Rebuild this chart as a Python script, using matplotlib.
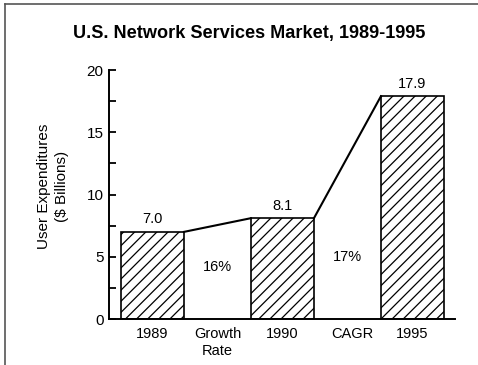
import matplotlib
matplotlib.use('Agg')
import matplotlib.pyplot as plt
from matplotlib.lines import Line2D

plt.rcParams['font.family'] = ['Liberation Sans', 'DejaVu Sans']
plt.rcParams['hatch.linewidth'] = 0.9

# Data
years = ['1989', '1990', '1995']
spend = [7.0, 8.1, 17.9]          # $ billions
rate_labels = ['16%', '17%']
rate_heights = [4.2, 5.0]         # where the growth figures sit
tick_labels = ['1989', 'Growth\nRate', '1990', 'CAGR', '1995']

bar_pos = [0, 2, 4]
rate_pos = [1, 3]
tick_pos = [0, 1, 2, 3.08, 4]
bar_w = 0.97

fig = plt.figure(figsize=(4.78, 3.65), dpi=100)
ax = fig.add_axes([0.228, 0.126, 0.724, 0.682])

ax.bar(bar_pos, spend, width=bar_w, color='white', edgecolor='black',
       linewidth=1.2, hatch='///')

# connectors from top-right of one bar to top-left of the next
for i in range(len(spend) - 1):
    ax.plot([bar_pos[i] + bar_w / 2, bar_pos[i + 1] - bar_w / 2],
            [spend[i], spend[i + 1]], color='black', lw=1.5)

for x, v in zip(bar_pos, spend):
    ax.text(x, v + 0.45, f'{v:.1f}', ha='center', va='bottom', fontsize=10.5)

for x, lab, h in zip(rate_pos, rate_labels, rate_heights):
    ax.text(x, h, lab, ha='center', va='center', fontsize=10.5)

ax.set_xlim(-0.667, 4.655)
ax.set_ylim(0, 20)
ax.set_yticks([0, 5, 10, 15, 20])
ax.set_yticks([2.5, 7.5, 12.5, 17.5], minor=True)
ax.tick_params(axis='y', which='both', direction='in', length=5, width=1.3,
               labelsize=11, pad=4)
ax.set_xticks(tick_pos)
ax.set_xticklabels(tick_labels, fontsize=10.5, linespacing=1.2)
ax.tick_params(axis='x', length=0, pad=6)

for s in ['top', 'right']:
    ax.spines[s].set_visible(False)
ax.spines['left'].set_linewidth(1.4)
ax.spines['bottom'].set_linewidth(1.4)
ax.spines['bottom'].set_bounds(-0.667, 4.655)

fig.text(0.521, 0.907, 'U.S. Network Services Market, 1989-1995',
         ha='center', va='center', fontsize=13.1, fontweight='bold')
fig.text(0.111, 0.49, 'User Expenditures\n($ Billions)', ha='center',
         va='center', rotation=90, fontsize=11, linespacing=1.35)

# page frame: left and top edges only
fig.add_artist(Line2D([0.0105, 0.0105], [0, 0.989], color='#555555', lw=1.2))
fig.add_artist(Line2D([0.0105, 1], [0.989, 0.989], color='#555555', lw=1.2))

fig.savefig('out.png', dpi=100)
